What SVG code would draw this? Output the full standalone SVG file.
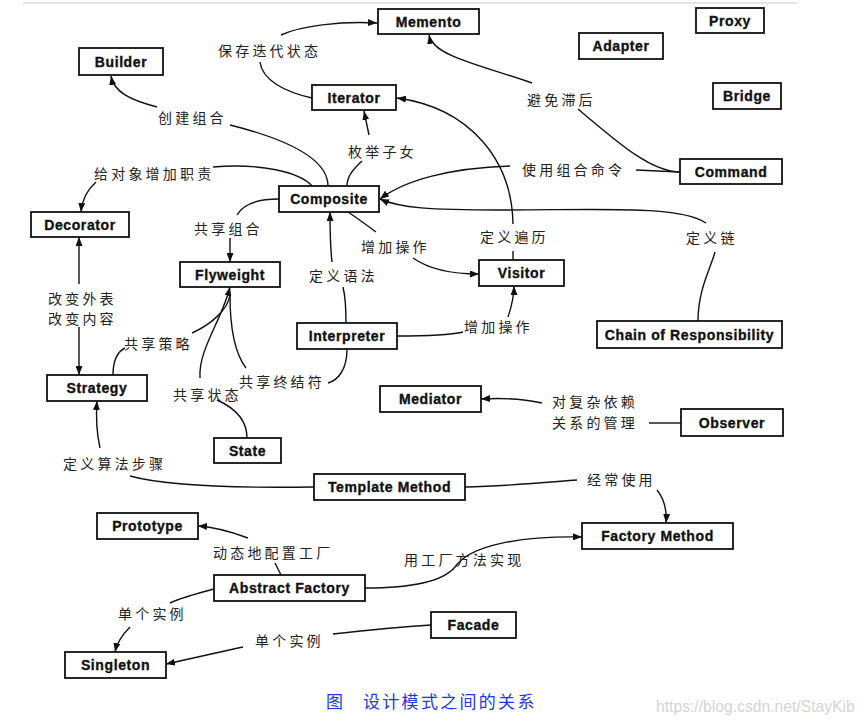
<svg xmlns="http://www.w3.org/2000/svg" width="865" height="724" viewBox="0 0 865 724">
<style>
.box rect{fill:#fff;stroke:#111;stroke-width:1.8}
.box text{font-family:"Liberation Sans",Arial,sans-serif;font-weight:bold;font-size:14px;letter-spacing:0.6px;text-anchor:middle;fill:#111;stroke:#111;stroke-width:0.35}
.lbl{font-family:"Noto Sans CJK SC","Noto Sans",sans-serif;font-size:14px;letter-spacing:3.2px;fill:#222}
.cn path{fill:none;stroke:#111;stroke-width:1.4}
.arr{marker-end:url(#ah)}
</style>
<defs>
<marker id="ah" viewBox="0 0 10 10" refX="10" refY="5" markerWidth="9" markerHeight="7" markerUnits="userSpaceOnUse" orient="auto" preserveAspectRatio="none"><path d="M0,0 L10,5 L0,10 z" fill="#111"/></marker>
</defs>
<rect width="865" height="724" fill="#fff"/>
<line x1="23" y1="3" x2="797" y2="3" stroke="#ddd" stroke-width="1.5"/>

<g id="connectors" class="cn">
<path class="arr" d="M281 35 C300 26,340 21,377 23"/>
<path d="M312 98 C285 92,262 80,260 62"/>
<path class="arr" d="M157 107 C130 100,114 92,111 76"/>
<path d="M230 125 C290 140,328 160,328 186"/>
<path d="M213 167 C260 163,300 172,312 186"/>
<path class="arr" d="M96 182 C87 190,82 200,81 212"/>
<path d="M347 186 C347 175,355 168,362 161"/>
<path class="arr" d="M369 135 L364 111"/>
<path d="M680 172 C650 172,615 140,578 109"/>
<path class="arr" d="M532 83 C480 65,433 56,429 35"/>
<path d="M680 172 L636 170"/>
<path class="arr" d="M510 166 C450 168,405 180,380 199"/>
<path d="M513 260 L513 251"/>
<path class="arr" d="M513 224 C512 160,470 108,397 98"/>
<path d="M698 321 C698 290,710 270,715 252"/>
<path class="arr" d="M706 223 C680 205,600 210,500 210 C430 210,400 208,380 199"/>
<path d="M279 199 C255 199,242 206,237 215"/>
<path class="arr" d="M230 238 L230 262"/>
<path d="M348 212 C360 220,368 226,376 232"/>
<path class="arr" d="M413 258 C430 270,455 274,479 274"/>
<path d="M346 323 C346 305,345 295,343 287"/>
<path class="arr" d="M332 262 C330 245,330 230,330 212"/>
<path d="M397 336 C420 336,450 335,463 332"/>
<path class="arr" d="M508 317 C512 305,514 297,514 286"/>
<path d="M347 349 C347 370,338 380,328 383"/>
<path d="M246 368 C236 355,230 330,230 295"/>
<path d="M113 375 C113 360,117 352,125 348"/>
<path d="M192 333 C210 325,228 310,230 295"/>
<path d="M247 438 C247 420,235 408,217 400"/>
<path class="arr" d="M200 378 C198 350,222 320,230 287"/>
<path class="arr" d="M79 284 L79 237"/>
<path class="arr" d="M79 327 L79 375"/>
<path d="M314 487 C250 488,170 487,130 476"/>
<path class="arr" d="M100 448 C96 430,96 415,97 401"/>
<path d="M465 487 C510 486,550 482,577 480"/>
<path class="arr" d="M657 490 C665 500,667 510,666 523"/>
<path d="M681 423 L649 423"/>
<path class="arr" d="M542 403 C520 398,500 398,481 399"/>
<path d="M281 575 L275 563"/>
<path class="arr" d="M248 538 C232 532,215 527,198 526"/>
<path class="arr" d="M365 588 C400 588,440 585,455 567 C470 545,520 536,582 537"/>
<path d="M214 589 C195 594,180 598,170 603"/>
<path class="arr" d="M130 627 C122 635,117 643,115 652"/>
<path d="M431 625 C400 627,360 631,333 634"/>
<path class="arr" d="M243 647 C215 653,190 659,166 664"/>
</g>

<g id="labels" class="lbl">
<text x="218" y="56">保存迭代状态</text>
<text x="158" y="123">创建组合</text>
<text x="348" y="157">枚举子女</text>
<text x="94" y="179">给对象增加职责</text>
<text x="194" y="234">共享组合</text>
<text x="527" y="105">避免滞后</text>
<text x="522" y="175">使用组合命令</text>
<text x="480" y="242">定义遍历</text>
<text x="686" y="243">定义链</text>
<text x="361" y="252">增加操作</text>
<text x="309" y="281">定义语法</text>
<text x="464" y="332">增加操作</text>
<text x="48" y="304">改变外表</text>
<text x="48" y="324">改变内容</text>
<text x="124" y="349">共享策略</text>
<text x="239" y="387">共享终结符</text>
<text x="173" y="400">共享状态</text>
<text x="63" y="469">定义算法步骤</text>
<text x="552" y="407">对复杂依赖</text>
<text x="552" y="428">关系的管理</text>
<text x="587" y="485">经常使用</text>
<text x="213" y="558">动态地配置工厂</text>
<text x="404" y="565">用工厂方法实现</text>
<text x="118" y="619">单个实例</text>
<text x="255" y="646">单个实例</text>
</g>

<g id="Memento" class="box"><rect x="378" y="9" width="101" height="25"/><text x="428.5" y="26.5">Memento</text></g>
<g id="Proxy" class="box"><rect x="696" y="8" width="68" height="25"/><text x="730" y="25.5">Proxy</text></g>
<g id="Adapter" class="box"><rect x="579" y="33" width="84" height="26"/><text x="621" y="51">Adapter</text></g>
<g id="Bridge" class="box"><rect x="713" y="83" width="68" height="26"/><text x="747" y="101">Bridge</text></g>
<g id="Command" class="box"><rect x="680" y="159" width="102" height="25"/><text x="731" y="176.5">Command</text></g>
<g id="Builder" class="box"><rect x="79" y="48" width="84" height="27"/><text x="121" y="66.5">Builder</text></g>
<g id="Iterator" class="box"><rect x="312" y="85" width="84" height="25"/><text x="354" y="102.5">Iterator</text></g>
<g id="Composite" class="box"><rect x="279" y="186" width="100" height="26"/><text x="329" y="204">Composite</text></g>
<g id="Decorator" class="box"><rect x="31" y="212" width="98" height="25"/><text x="80" y="229.5">Decorator</text></g>
<g id="Flyweight" class="box"><rect x="180" y="262" width="100" height="25"/><text x="230" y="279.5">Flyweight</text></g>
<g id="Interpreter" class="box"><rect x="297" y="323" width="100" height="26"/><text x="347" y="341">Interpreter</text></g>
<g id="Strategy" class="box"><rect x="47" y="375" width="100" height="26"/><text x="97" y="393">Strategy</text></g>
<g id="State" class="box"><rect x="214" y="438" width="67" height="25"/><text x="247.5" y="455.5">State</text></g>
<g id="Mediator" class="box"><rect x="380" y="386" width="101" height="26"/><text x="430.5" y="404">Mediator</text></g>
<g id="Visitor" class="box"><rect x="479" y="260" width="85" height="26"/><text x="521.5" y="278">Visitor</text></g>
<g id="ChainOfResponsibility" class="box"><rect x="597" y="321" width="185" height="27"/><text x="689.5" y="339.5">Chain of Responsibility</text></g>
<g id="Observer" class="box"><rect x="681" y="409" width="102" height="27"/><text x="732" y="427.5">Observer</text></g>
<g id="TemplateMethod" class="box"><rect x="314" y="474" width="151" height="26"/><text x="389.5" y="492">Template Method</text></g>
<g id="Prototype" class="box"><rect x="97" y="513" width="101" height="26"/><text x="147.5" y="531">Prototype</text></g>
<g id="AbstractFactory" class="box"><rect x="214" y="575" width="151" height="26"/><text x="289.5" y="593">Abstract Factory</text></g>
<g id="Singleton" class="box"><rect x="65" y="652" width="101" height="26"/><text x="115.5" y="670">Singleton</text></g>
<g id="FactoryMethod" class="box"><rect x="582" y="523" width="151" height="26"/><text x="657.5" y="541">Factory Method</text></g>
<g id="Facade" class="box"><rect x="431" y="612" width="85" height="26"/><text x="473.5" y="630">Facade</text></g>

<g id="caption" font-family="'Noto Sans CJK SC','Noto Sans',sans-serif" font-size="17" fill="#1c35e8">
<text x="326" y="708">图</text>
<text x="363" y="708" letter-spacing="2.3">设计模式之间的关系</text>
</g>
<text x="656" y="712" font-family="'Liberation Sans',Arial,sans-serif" font-size="15.7" fill="#d4d4d4">https://blog.csdn.net/StayKib</text>
</svg>
